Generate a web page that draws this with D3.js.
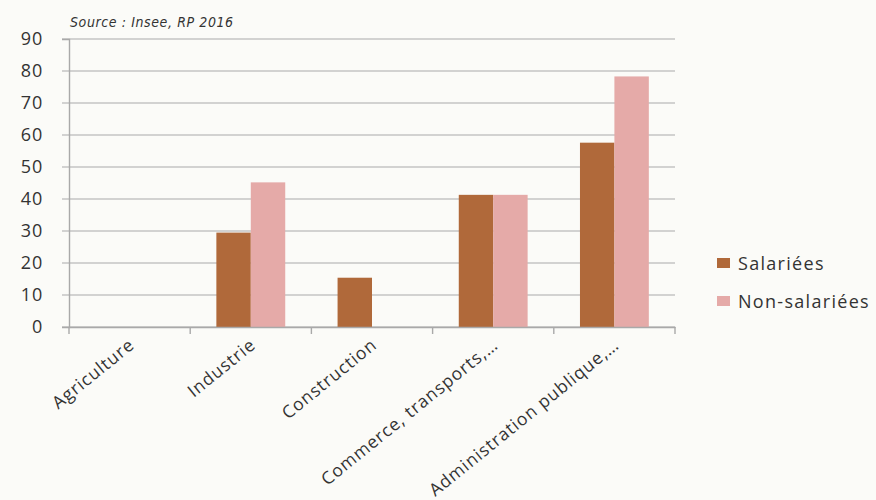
<!DOCTYPE html>
<html>
<head>
<meta charset="utf-8">
<script src="https://cdn.jsdelivr.net/npm/d3@7"></script>
<style>
  body { margin: 0; background: #fbfbf8; }
  svg { display: block; }
</style>
</head>
<body>
<div id="chart"></div>
<script>
// Données (en %)
const categories = ["Agriculture", "Industrie", "Construction", "Commerce, transports,…", "Administration publique,…"];
const series = ["Salariées", "Non-salariées"];
const salariees = [null, 29.5, 15.4, 41.3, 57.6];
const nonSalariees = [null, 45.2, null, 41.3, 78.3];
const yTicks = [0, 10, 20, 30, 40, 50, 60, 70, 80, 90];
const source = "Source : Insee, RP 2016";

const colors = {"Salariées": "#b0693a", "Non-salariées": "#e5aaa8"};

const width = 876, height = 500;
const margin = {top: 39, right: 201, bottom: 173, left: 69};
const innerW = width - margin.left - margin.right;
const innerH = height - margin.top - margin.bottom;

const svg = d3.select("#chart").append("svg")
    .attr("width", width)
    .attr("height", height);

svg.append("rect")
    .attr("width", width)
    .attr("height", height)
    .attr("fill", "#fbfbf8");

// source
svg.append("text")
    .attr("x", 70)
    .attr("y", 27)
    .attr("font-family", "DejaVu Sans Condensed")
    .attr("font-style", "italic")
    .attr("font-size", 14)
    .attr("letter-spacing", 0.6)
    .attr("fill", "#333")
    .text(source);

const g = svg.append("g")
    .attr("transform", `translate(${margin.left},${margin.top})`);

const x0 = d3.scaleBand()
    .domain(categories)
    .range([0, innerW])
    .padding(0);

const x1 = d3.scaleBand()
    .domain(series)
    .range([0, x0.bandwidth()])
    .paddingInner(0)
    .paddingOuter(0.76);

const y = d3.scaleLinear()
    .domain([0, 90])
    .range([innerH, 0]);

// grille
g.append("g")
  .selectAll("line")
  .data(yTicks)
  .join("line")
    .attr("x1", -7)
    .attr("x2", innerW)
    .attr("y1", d => y(d))
    .attr("y2", d => y(d))
    .attr("stroke", "#c4c4c4")
    .attr("stroke-width", 1.4);

// axe Y
const yAxis = g.append("g")
    .call(d3.axisLeft(y).tickValues(yTicks).tickSize(7).tickPadding(19));
yAxis.select(".domain").attr("stroke", "#a9a9a9").attr("stroke-width", 1.4);
yAxis.selectAll(".tick line").remove();
yAxis.selectAll("text")
    .attr("font-family", "Open Sans")
    .attr("font-size", 18)
    .attr("letter-spacing", 0.8)
    .attr("fill", "#333");

// barres
const rows = categories.map((c, i) => ({cat: c, values: [
    {key: "Salariées", value: salariees[i]},
    {key: "Non-salariées", value: nonSalariees[i]}
]}));

g.append("g")
  .selectAll("g")
  .data(rows)
  .join("g")
    .attr("transform", d => `translate(${x0(d.cat)},0)`)
  .selectAll("rect")
  .data(d => d.values.filter(v => v.value != null))
  .join("rect")
    .attr("x", d => x1(d.key))
    .attr("y", d => y(d.value))
    .attr("width", x1.bandwidth())
    .attr("height", d => innerH - y(d.value))
    .attr("fill", d => colors[d.key]);

// axe X
const xAxis = g.append("g")
    .attr("transform", `translate(0,${innerH})`)
    .call(d3.axisBottom(x0).tickSize(0).tickPadding(0));
xAxis.select(".domain").attr("stroke", "#a9a9a9").attr("stroke-width", 1.4);

// graduations entre catégories
g.append("g")
  .selectAll("line")
  .data(d3.range(categories.length + 1))
  .join("line")
    .attr("x1", i => i * x0.step())
    .attr("x2", i => i * x0.step())
    .attr("y1", innerH)
    .attr("y2", innerH + 7)
    .attr("stroke", "#a9a9a9")
    .attr("stroke-width", 1.4);

xAxis.selectAll("text")
    .attr("font-family", "Open Sans")
    .attr("font-size", 17.5)
    .attr("letter-spacing", 0.9)
    .attr("fill", "#333")
    .attr("text-anchor", "end")
    .attr("dy", 0)
    .attr("y", 0)
    .attr("transform", "translate(6,20) rotate(-39)");

// légende
const legend = svg.append("g")
    .attr("transform", "translate(717,258)");

const items = legend.selectAll("g")
  .data(series)
  .join("g")
    .attr("transform", (d, i) => `translate(0,${i * 38})`);

items.append("rect")
    .attr("width", 13)
    .attr("height", 10)
    .attr("fill", d => colors[d]);

items.append("text")
    .attr("x", 21)
    .attr("y", 12)
    .attr("font-family", "Open Sans")
    .attr("font-size", 18)
    .attr("letter-spacing", 1.3)
    .attr("fill", "#333")
    .text(d => d);
</script>
</body>
</html>
